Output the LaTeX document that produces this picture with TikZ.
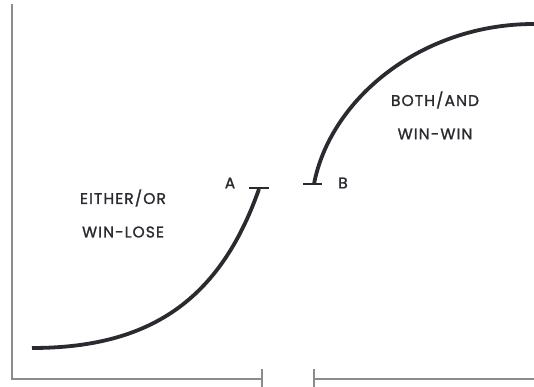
\documentclass[tikz,border=0pt]{standalone}
\usepackage{fontspec}
\setsansfont{Poppins}[LetterSpace=7,FakeBold=1.3]
\usetikzlibrary{positioning}
\definecolor{CurveInk}{HTML}{2A2A30}
\definecolor{AxisGray}{HTML}{8C8C8C}

\begin{document}
\begin{tikzpicture}[x=1pt,y=1pt,font=\sffamily\fontsize{15.5}{18}\selectfont,
    axis/.style={draw=AxisGray,line width=1.1pt},
    scurve/.style={draw=CurveInk,line width=3.8pt},
    bar/.style={draw=CurveInk,line width=1.8pt},
    tag/.style={text=CurveInk,inner sep=0pt}]
    \useasboundingbox (0,0) rectangle (534,387);
    % axes
    \coordinate (top) at (12,383);
    \coordinate (origin) at (12,8);
    \coordinate (gapL) at (262,8);
    \coordinate (gapR) at (314,8);
    \coordinate (far) at (534,8);
    \draw[axis] (top) -- (origin) -- (gapL);
    \draw[axis] (gapR) -- (far);
    \draw[axis] (262,18) -- (262,0);
    \draw[axis] (314,18) -- (314,0);
    % first curve
    \coordinate (startA) at (32,39);
    \coordinate (endA) at (259,198);
    \draw[scurve] (startA) .. controls (150,39) and (220,87) .. (endA);
    \draw[bar] (249,199) -- (269,199);
    % second curve
    \coordinate (startB) at (314,203);
    \coordinate (endB) at (534,363);
    \draw[scurve] (startB) .. controls (330,287) and (420,363) .. (endB);
    \draw[bar] (303,203) -- (322,203);
    % labels
    \node[tag] (lblA) at (230,204) {A};
    \node[tag] (lblB) at (343,204) {B};
    \node[tag] (either) at (123,189) {EITHER/OR};
    \node[tag] (winlose) at (123,155) {WIN-LOSE};
    \node[tag] (both) at (435,287) {BOTH/AND};
    \node[tag] (winwin) at (435,253) {WIN-WIN};
\end{tikzpicture}
\end{document}
